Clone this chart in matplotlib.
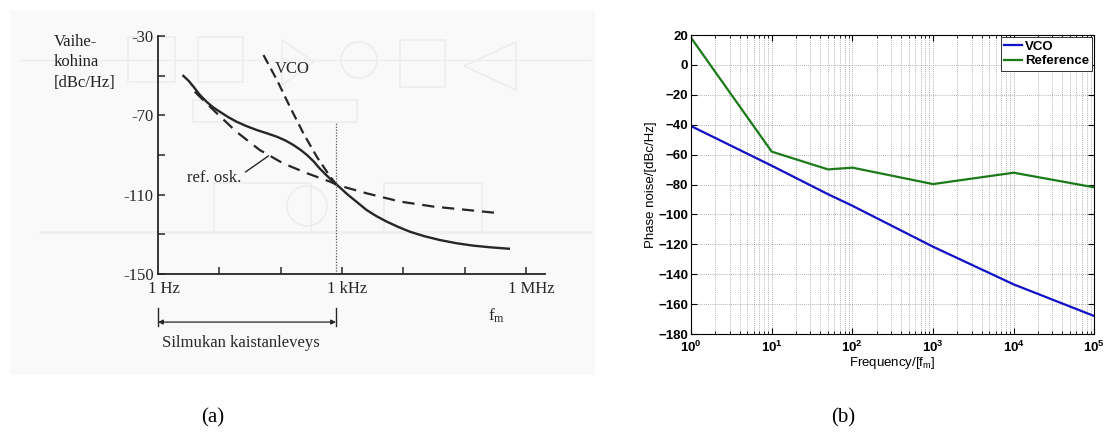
import numpy as np
import matplotlib
matplotlib.use("Agg")
import matplotlib.pyplot as plt
import matplotlib.transforms as mtransforms
from matplotlib.patches import Rectangle, Circle, Polygon

plt.rcParams['mathtext.fontset'] = 'custom'
plt.rcParams['mathtext.rm'] = 'Liberation Sans'
plt.rcParams['mathtext.bf'] = 'Liberation Sans:bold'
plt.rcParams['mathtext.it'] = 'Liberation Sans:italic'

# (a) textbook sketch: log10(f / Hz) and dBc/Hz
pll_logf = [0.40, 0.50, 0.58, 0.68, 0.79, 0.90, 1.01, 1.14, 1.28, 1.44, 1.61, 1.78, 1.94,
            2.08, 2.21, 2.32, 2.43, 2.54, 2.64, 2.75, 2.86, 2.92, 3.08, 3.25, 3.40, 3.56,
            3.73, 3.92, 4.11, 4.35, 4.60, 4.87, 5.14, 5.44, 5.74]
pll_db = [-49.7, -52.6, -55.6, -59.6, -63.1, -66.0, -68.2, -70.8, -73.2, -75.4, -77.4,
          -79.1, -80.8, -82.7, -85.0, -87.3, -90.0, -93.3, -96.9, -100.3, -103.5, -105.1,
          -109.6, -113.9, -117.7, -120.8, -123.6, -126.3, -128.7, -131.0, -132.9, -134.5,
          -135.7, -136.6, -137.3]
vco_logf = [1.72, 1.94, 2.15, 2.37, 2.59, 2.81, 2.92]
vco_db = [-39.6, -52.2, -65.6, -79.0, -90.9, -101.0, -105.3]
ref_logf = [0.60, 0.96, 1.28, 1.66, 2.04, 2.43, 2.81, 2.92, 3.40, 3.95, 4.49, 5.04, 5.58]
ref_db = [-58.1, -69.0, -78.3, -87.5, -94.2, -99.2, -103.5, -105.1, -109.3, -113.5,
          -116.0, -117.7, -119.4]
loop_bw = 800  # Hz, dotted marker
a_yticks = [-150, -130, -110, -90, -70, -50, -30]
a_ylabels = ['-150', '', '-110', '', '-70', '', '-30']
a_xlabels = ['1 Hz', '1 kHz', '1 MHz']

# (b) simulated phase noise
freq = [1, 10, 50, 100, 1000, 10000, 100000]
vco_pn = [-40.9, -67.4, -86.5, -94.2, -121.6, -146.8, -168.0]
ref_pn = [18.2, -58.0, -69.9, -68.7, -79.7, -72.1, -81.9]

fig = plt.figure(figsize=(11.11, 4.44), dpi=100)

# background layer in pixel units (scan tone, faint bleed-through, captions)
bg = fig.add_axes([0, 0, 1, 1], zorder=-5)
bg.set_xlim(0, 1111)
bg.set_ylim(444, 0)
bg.axis('off')
bg.add_patch(Rectangle((10, 10), 585, 365, color='#f9f9f9', lw=0))
ghost = dict(fill=False, ec='#ececec', lw=1.1)
for x0, y0, w, h in [(128, 37, 47, 45), (198, 37, 45, 45), (400, 40, 45, 47),
                     (214, 183, 97, 50), (384, 183, 98, 50), (193, 100, 164, 22)]:
    bg.add_patch(Rectangle((x0, y0), w, h, **ghost))
bg.add_patch(Circle((359, 60), 18, **ghost))
bg.add_patch(Circle((307, 206), 20, **ghost))
bg.add_patch(Polygon([(282, 40), (282, 85), (314, 62)], closed=True, **ghost))
bg.add_patch(Polygon([(516, 42), (516, 90), (464, 66)], closed=True, **ghost))
bg.plot([20, 590], [60, 60], color='#eeeeee', lw=1)
bg.plot([40, 590], [232, 232], color='#f0f0f0', lw=2)
bg.text(213, 418, '(a)', family='Liberation Serif', fontsize=15, ha='center', va='center')
bg.text(843, 418, '(b)', family='Liberation Serif', fontsize=15, ha='center', va='center')
bg.text(54, 34, 'Vaihe-\nkohina\n[dBc/Hz]', family='Liberation Serif', fontsize=12,
        ha='left', va='top', linespacing=1.36, color='#222222')

# ---- (a)
ink = '#262626'
ax1 = fig.add_axes([0.1422, 0.3829, 0.3483, 0.536])
ax1.patch.set_alpha(0)
ax1.set_xscale('log')
ax1.set_xlim(1, 10 ** 6.31)
ax1.set_ylim(-150, -30)
for s in ['top', 'right']:
    ax1.spines[s].set_visible(False)
for s in ['left', 'bottom']:
    ax1.spines[s].set_color(ink)
    ax1.spines[s].set_linewidth(1.3)
ax1.plot(10 ** np.array(pll_logf), pll_db, color=ink, lw=1.7, solid_capstyle='butt')
ax1.plot(10 ** np.array(vco_logf), vco_db, color=ink, lw=1.6, dashes=(4.5, 2.5))
ax1.plot(10 ** np.array(ref_logf), ref_db, color=ink, lw=1.6, dashes=(5.5, 3.5))
ax1.plot([loop_bw, loop_bw], [-150, -73.4], color='#555555', lw=0.9, ls=(0, (1, 1.3)))

ax1.set_yticks(a_yticks, a_ylabels)
ax1.set_xticks([10 ** k for k in range(1, 7)], [])
ax1.xaxis.set_minor_locator(matplotlib.ticker.NullLocator())
ax1.tick_params(direction='in', length=5, width=1.1, color=ink, labelcolor=ink)
ax1.tick_params(axis='y', pad=3)
for lbl in ax1.get_yticklabels():
    lbl.set_family('Liberation Serif')
    lbl.set_fontsize(12)

tr = ax1.get_xaxis_transform()
for xv, t in zip([1, 1e3, 1e6], a_xlabels):
    ax1.text(xv, -0.03, t, transform=tr + mtransforms.ScaledTranslation(4 / 72, 0, fig.dpi_scale_trans),
             ha='center', va='top', family='Liberation Serif', fontsize=12, color=ink)
ax1.text(10 ** 5.38, -0.176, r'f$_{\mathregular{m}}$', transform=tr, ha='left', va='center',
         family='Liberation Serif', fontsize=12.5, color=ink)
ax1.text(10 ** 0.065, -0.29, 'Silmukan kaistanleveys', transform=tr, ha='left', va='center',
         family='Liberation Serif', fontsize=12, color=ink)
for xv in [1, loop_bw]:
    ax1.plot([xv, xv], [-0.143, -0.218], transform=tr, clip_on=False, color=ink, lw=1.0)
ax1.annotate('', xy=(1, -0.202), xytext=(loop_bw, -0.202), xycoords=tr, textcoords=tr,
             arrowprops=dict(arrowstyle='<|-|>', color=ink, lw=0.9, mutation_scale=7,
                             shrinkA=0, shrinkB=0))
ax1.text(10 ** 1.90, -42.5, 'VCO', ha='left', va='top', family='Liberation Serif',
         fontsize=12, color=ink)
ax1.text(10 ** 0.47, -101.5, 'ref. osk.', ha='left', va='center', family='Liberation Serif',
         fontsize=12, color=ink)
ax1.plot([10 ** 1.43, 10 ** 1.80], [-98.5, -90.5], color=ink, lw=1.0)

# ---- (b)
ax2 = fig.add_axes([0.622, 0.2477, 0.363, 0.6734])
ax2.semilogx(freq, vco_pn, color='#1010c8', lw=1.6, label='VCO')
ax2.semilogx(freq, ref_pn, color='#1a7a1a', lw=1.6, label='Reference')
ax2.set_xlim(1, 1e5)
ax2.set_ylim(-180, 20)
ax2.set_yticks(np.arange(-180, 21, 20))
ax2.set_xticks([10 ** k for k in range(6)],
               [r'$\mathbf{10^{%d}}$' % k for k in range(6)])
ax2.grid(True, which='both', color='#9a9a9a', lw=0.6, ls=(0, (1, 1.5)))
ax2.tick_params(which='both', direction='in', top=True, right=True, labelsize=9.5)
ax2.tick_params(which='major', length=4, pad=2)
ax2.tick_params(which='minor', length=2)
ax2.tick_params(axis='x', pad=4.5)
for lbl in ax2.get_yticklabels():
    lbl.set_family('Liberation Sans')
    lbl.set_fontweight('bold')
for s in ax2.spines.values():
    s.set_linewidth(0.8)
ax2.set_xlabel(r'Frequency/[f$_{\mathregular{m}}$]', family='Liberation Sans', fontsize=9.5,
               labelpad=0)
ax2.set_ylabel('Phase noise/[dBc/Hz]', family='Liberation Sans', fontsize=9.5, labelpad=1)
leg = ax2.legend(loc='upper right', prop=dict(family='Liberation Sans', weight='bold', size=9.5),
                 fancybox=False, framealpha=1, edgecolor='#333333', borderpad=0.25,
                 handlelength=1.4, handletextpad=0.2, labelspacing=0.2, borderaxespad=0.15)
leg.get_frame().set_linewidth(0.7)

fig.savefig('out.png', dpi=100)
